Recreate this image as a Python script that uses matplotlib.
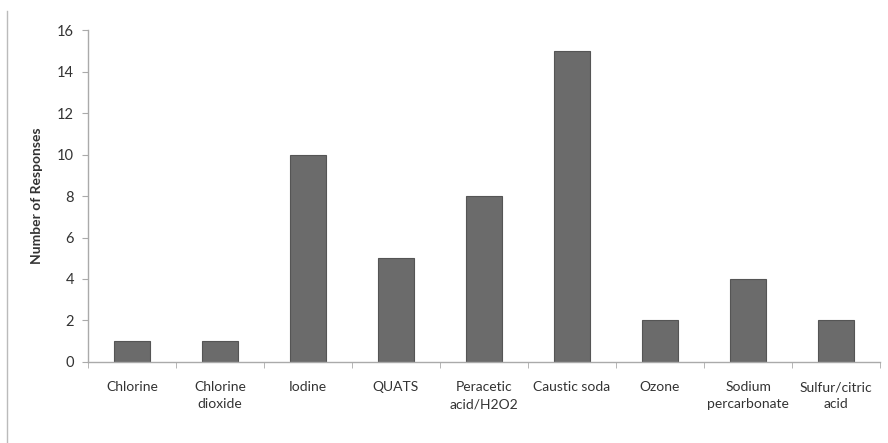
import numpy as np
import matplotlib.pyplot as plt
from matplotlib.lines import Line2D

categories = ["Chlorine", "Chlorine\ndioxide", "Iodine", "QUATS", "Peracetic\nacid/H2O2",
              "Caustic soda", "Ozone", "Sodium\npercarbonate", "Sulfur/citric\nacid"]
responses = [1, 1, 10, 5, 8, 15, 2, 4, 2]
yticks = [0, 2, 4, 6, 8, 10, 12, 14, 16]

plt.rcParams['font.family'] = ['Lato', 'DejaVu Sans']

fig = plt.figure(figsize=(8.88, 4.43), dpi=100)
ax = fig.add_axes([0.099, 0.183, 0.892, 0.749])

x = np.arange(len(categories))
ax.bar(x, responses, width=0.4, color="#6b6b6b", edgecolor="#555555", linewidth=0.8)

ax.set_xlim(-0.5, len(categories) - 0.5)
ax.set_ylim(0, 16)
ax.set_yticks(yticks)
ax.set_xticks(x)
ax.set_xticklabels(categories, fontsize=10, color="#333333", linespacing=1.5)
ax.set_xticks(np.arange(len(categories) + 1) - 0.5, minor=True)
ax.tick_params(axis="x", which="major", length=0, pad=14)
ax.tick_params(axis="x", which="minor", length=4, color="#aaaaaa", direction="out")
ax.tick_params(axis="y", length=4, color="#aaaaaa", labelsize=10.5, labelcolor="#333333", pad=6)

for s in ["top", "right"]:
    ax.spines[s].set_visible(False)
for s in ["left", "bottom"]:
    ax.spines[s].set_color("#aaaaaa")
    ax.spines[s].set_linewidth(1)

ax.set_ylabel("Number of Responses", fontsize=10, fontweight="bold", color="#333333", labelpad=10)

# thin border line at the far left
fig.add_artist(Line2D([0.008, 0.008], [0.0, 0.975], transform=fig.transFigure,
                      color="#bbbbbb", linewidth=1))

fig.savefig("out.png", dpi=100)
